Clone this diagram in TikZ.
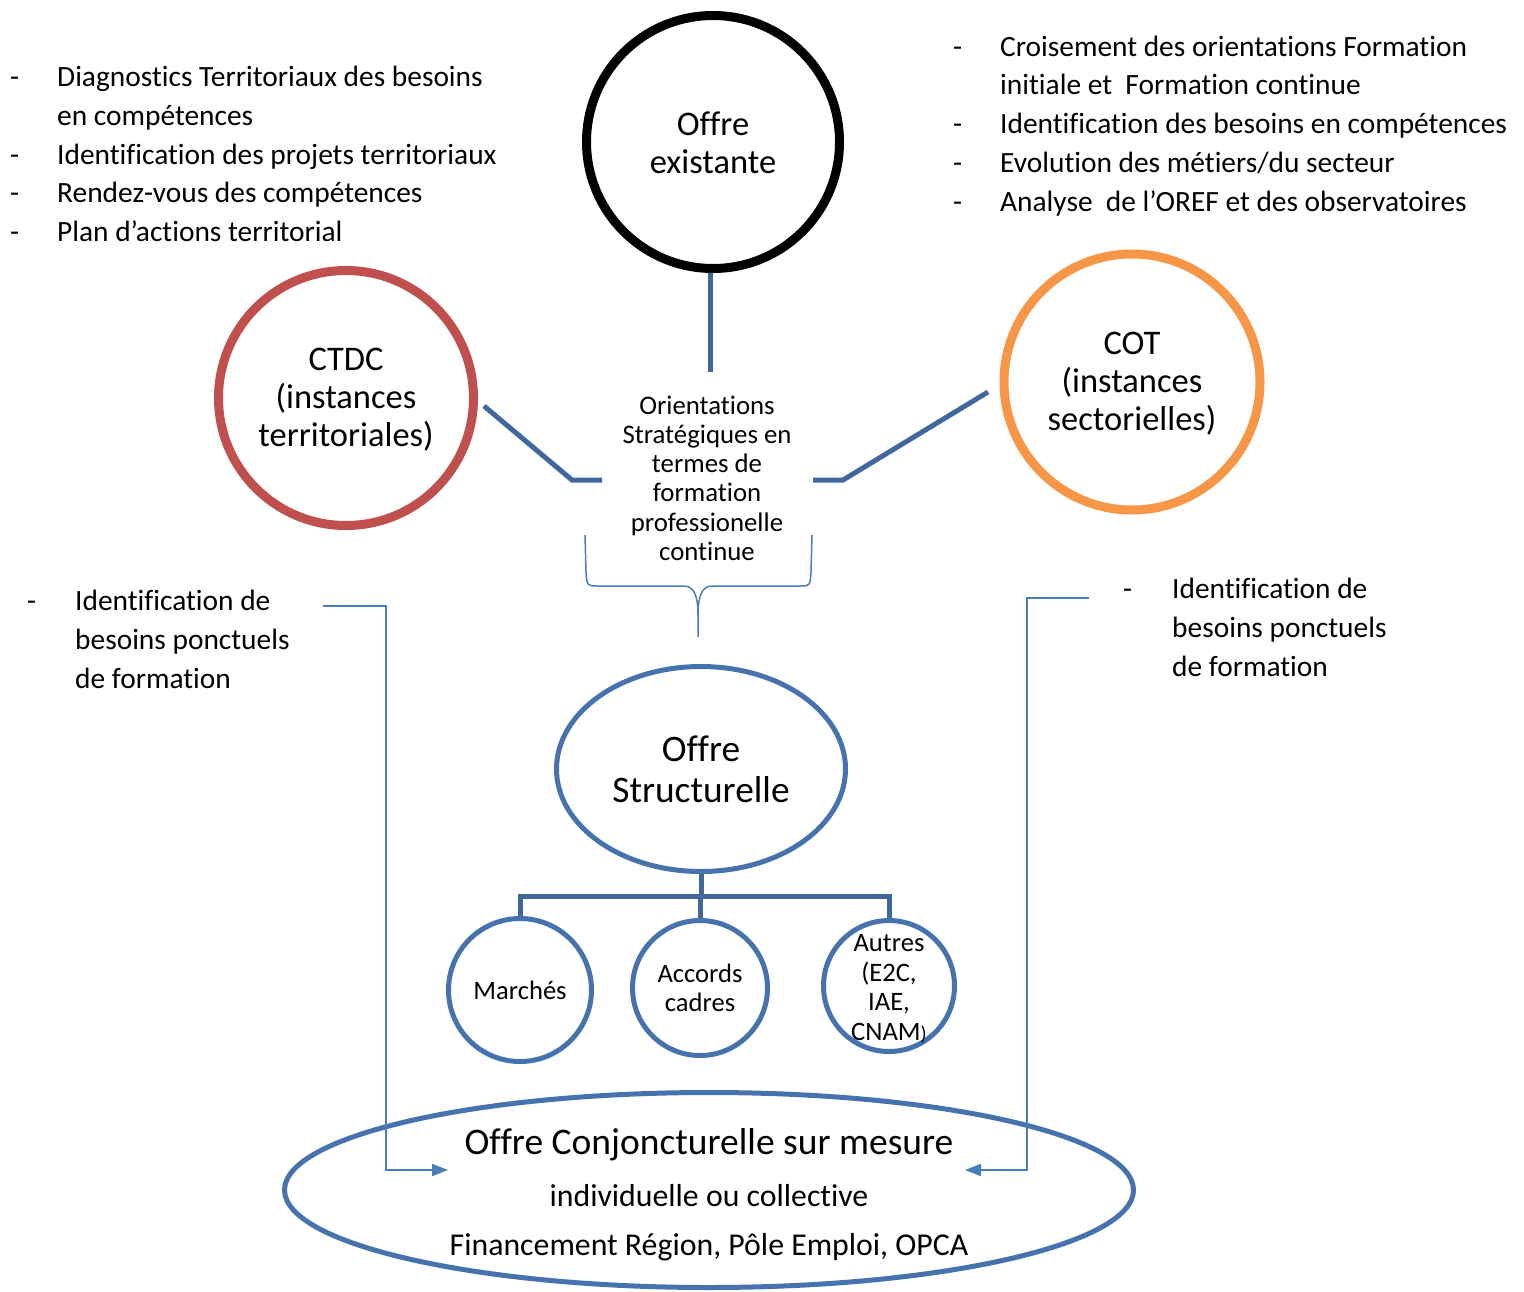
\documentclass[tikz,border=0pt]{standalone}
\usepackage{fontspec}
\setmainfont{Carlito}[Ligatures=NoCommon]
\usetikzlibrary{shapes.geometric,arrows.meta}
\definecolor{ctdcred}{HTML}{C0504D}
\definecolor{cotorange}{HTML}{F79646}
\definecolor{shapeblue}{HTML}{4673AE}
\definecolor{linkblue}{HTML}{41689C}
\definecolor{thinblue}{HTML}{4A7EBB}
\tikzset{
  bigring/.style={circle,draw,line width=9pt,inner sep=0pt},
  ringtext/.style={inner sep=0pt,align=center,font=\fontsize{34.5}{38}\selectfont},
  bluering/.style={circle,draw=shapeblue,line width=5pt,inner sep=0pt,align=center,font=\fontsize{26.6}{29.5}\selectfont},
  link/.style={draw=linkblue,line width=5pt},
  thinlink/.style={draw=thinblue,line width=2pt},
  listtext/.style={anchor=base west,inner sep=0pt,font=\fontsize{29.4}{38.8}\selectfont},
  plaintext/.style={inner sep=0pt}
}
\newcommand{\dashlist}[2]{\begin{tabular}[t]{@{}p{#1}@{}l@{}}#2\end{tabular}}
\begin{document}
\begin{tikzpicture}[x=1pt,y=-1pt]
\useasboundingbox (0,0) rectangle (1524,1291);

% --- text lists ---
\node[listtext] (lefttop) at (10,86.5) {\dashlist{47pt}{%
- & Diagnostics Territoriaux des besoins\\
  & en compétences\\
- & Identification des projets territoriaux\\
- & Rendez-vous des compétences\\
- & Plan d’actions territorial}};
\node[listtext] (righttop) at (953,56) {\dashlist{47pt}{%
- & Croisement des orientations Formation\\
  & initiale et\ \ Formation continue\\
- & Identification des besoins en compétences\\
- & Evolution des métiers/du secteur\\
- & Analyse\ \ de l’OREF et des observatoires}};
\node[listtext] (leftlow) at (27,610.5) {\dashlist{48pt}{%
- & Identification de\\
  & besoins ponctuels\\
  & de formation}};
\node[listtext] (rightlow) at (1123,598.5) {\dashlist{49pt}{%
- & Identification de\\
  & besoins ponctuels\\
  & de formation}};

% --- main circles ---
\node[bigring,draw=black,minimum size=253pt] (oe) at (713,142) {};
\node[ringtext] (oetext) at ([yshift=-1pt]oe.center) {Offre\\existante};
\node[bigring,draw=ctdcred,minimum size=255pt] (ctdc) at (346,398) {};
\node[ringtext] (ctdctext) at ([yshift=-2pt]ctdc.center) {CTDC\\(instances\\territoriales)};
\node[bigring,draw=cotorange,minimum size=256pt] (cot) at (1132,382) {};
\node[ringtext] (cottext) at ([yshift=-2pt]cot.center) {COT\\(instances\\sectorielles)};

% --- strategic orientations ---
\node[plaintext,anchor=base,align=center,font=\fontsize{26.8}{29.3}\selectfont] (orient) at (707,414)
  {\begin{tabular}[t]{@{}c@{}}Orientations\\Stratégiques en\\termes de\\formation\\professionelle\\continue\end{tabular}};

\coordinate (oeend) at (710,372);
\coordinate (lstart) at (484,406);
\coordinate (lknee) at (572,480);
\coordinate (lend) at (602,480);
\coordinate (rstart) at (988,392);
\coordinate (rknee) at (843,480);
\coordinate (rend) at (813,480);
\draw[link] (oe.south) ++(-3,0) -- (oeend);
\draw[link] (lstart) -- (lknee) -- (lend);
\draw[link] (rstart) -- (rknee) -- (rend);

% --- brace under the orientations ---
\coordinate (tip) at (698,637);
\draw[thinblue,line width=1.5pt]
  (585,535) -- (586,572) .. controls (587,586) .. (598,586) -- (684,586)
  .. controls (695,586) and (698,598) .. (698,615) -- (tip);
\draw[thinblue,line width=1.5pt]
  (812,535) -- (811,572) .. controls (810,586) .. (800,586) -- (712,586)
  .. controls (701,586) and (698,598) .. (698,615);

% --- structural offer ---
\node[ellipse,draw=shapeblue,line width=5pt,minimum width=289pt,minimum height=205pt,inner sep=0pt,align=center,font=\fontsize{37.4}{41}\selectfont] (os) at (701,769)
  {Offre\\Structurelle};

\node[bluering,minimum size=143pt] (marches) at (520,990) {Marchés};
\node[bluering,minimum size=135pt] (accords) at (700,988) {Accords\\cadres};
\node[bluering,minimum size=131pt] (autres) at (889,986) {};
\node[inner sep=0pt,align=center,font=\fontsize{26.6}{29.5}\selectfont] (autrestext) at ([yshift=-3pt]autres.center)
  {Autres\\(E2C,\\IAE,\\CNAM{\fontsize{20}{22}\selectfont)}};

\coordinate (bar) at (701,896);
\draw[link] (os.south) -- (bar);
\draw[link] (marches.north) -- (marches.north |- bar) -- (autres.north |- bar) -- (autres.north);
\draw[link] (accords.north) -- (accords.north |- bar);

% --- conjunctural offer ---
\node[ellipse,draw=shapeblue,line width=5pt,minimum width=849pt,minimum height=195pt,inner sep=0pt] (oc) at (709,1190) {};
\node[plaintext,anchor=base,font=\fontsize{37.5}{40}\selectfont] (oc1) at (709,1154) {Offre Conjoncturelle sur mesure};
\node[plaintext,anchor=base,font=\fontsize{31.8}{34}\selectfont] (oc2) at (709,1206) {individuelle ou collective};
\node[plaintext,anchor=base,font=\fontsize{31.8}{34}\selectfont] (oc3) at (709,1255) {Financement Région, Pôle Emploi, OPCA};

% --- one-off needs arrows ---
\coordinate (la) at (323,606);
\coordinate (lb) at (386,606);
\coordinate (lc) at (386,1170);
\coordinate (ld) at (448,1170);
\coordinate (ra) at (1089,598);
\coordinate (rb) at (1027,598);
\coordinate (rc) at (1027,1170);
\coordinate (rd) at (965,1170);
\draw[thinlink,-{Triangle[length=16pt,width=12pt]}] (la) -- (lb) -- (lc) -- (ld);
\draw[thinlink,-{Triangle[length=16pt,width=12pt]}] (ra) -- (rb) -- (rc) -- (rd);
\end{tikzpicture}
\end{document}
